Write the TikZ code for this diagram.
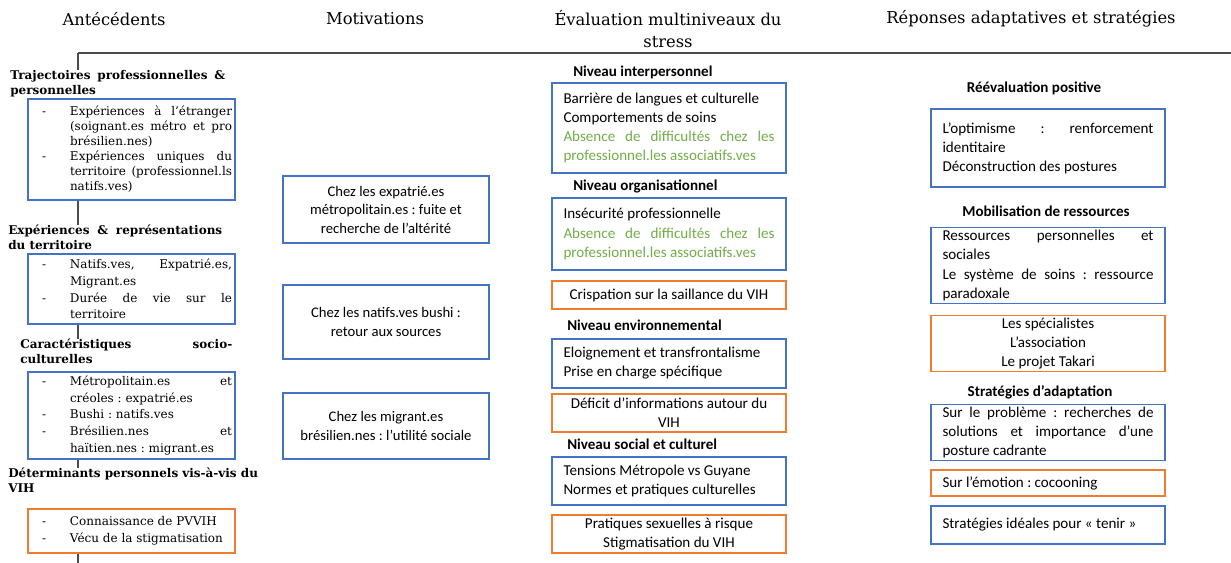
\documentclass[tikz,border=0pt]{standalone}
\usepackage{fontspec}
\setmainfont{DejaVu Serif}
\newfontfamily\calib{Carlito}
\frenchspacing
\definecolor{boxblue}{RGB}{68,114,196}
\definecolor{boxorange}{RGB}{237,125,49}
\definecolor{txtgreen}{RGB}{112,173,71}
\definecolor{rulegray}{RGB}{75,75,75}
% lines of the left column lists
\newcommand{\itemjust}[1]{\hspace*{10.5pt}\makebox[21pt][l]{-}\makebox[121.5pt][s]{#1}}
\newcommand{\itemlast}[1]{\hspace*{10.5pt}\makebox[21pt][l]{-}#1}
\newcommand{\contjust}[1]{\hspace*{31.5pt}\makebox[121.5pt][s]{#1}}
\newcommand{\contlast}[1]{\hspace*{31.5pt}#1}
% justified line in the sans boxes
\newcommand{\sjust}[1]{\makebox[158.25pt][s]{#1}}
\begin{document}
\begin{tikzpicture}[x=0.75pt,y=0.75pt,yscale=-1,xscale=1,
  rule/.style={draw=rulegray,line width=1.1pt},
  colhead/.style={inner sep=0pt,align=flush center,font=\fontsize{12.25}{16.5}\selectfont},
  lhead/.style={anchor=north west,inner sep=0pt,text width=161.25pt,align=flush left,font=\bfseries\fontsize{9}{11.25}\selectfont},
  lbox/.style={draw=boxblue,line width=0.8pt,inner sep=0pt,text width=155.25pt,minimum width=155.25pt,align=flush left,font=\fontsize{9}{12.5}\selectfont},
  lboxo/.style={lbox,draw=boxorange},
  mbox/.style={draw=boxblue,line width=0.8pt,minimum width=154.5pt,text width=140pt,align=flush center,font=\calib\fontsize{11}{13.9}\selectfont},
  sbox/.style={draw=boxblue,line width=0.8pt,minimum width=175.5pt,text width=158.25pt,inner ysep=2pt,align=flush left,font=\calib\fontsize{11.3}{14.3}\selectfont},
  sboxo/.style={sbox,draw=boxorange},
  stitle/.style={inner sep=0pt,font=\calib\bfseries\fontsize{11.3}{14}\selectfont}]
\useasboundingbox (0,0) rectangle (1231,563);

% Text Node
\draw (114,19) node (hant) [colhead] {Antécédents};
% Text Node
\draw (375,19) node (hmot) [colhead] {Motivations};
% Text Node
\draw (668,29) node (heval) [colhead] {Évaluation multiniveaux du\\stress};
% Text Node
\draw (1031,19) node (hrep) [colhead] {Réponses adaptatives et stratégies};

%Straight Lines
\coordinate (spine) at (78,53);
\coordinate (ruleend) at (1231,53);
\coordinate (spineend) at (78,563);
\draw [rule] (spine) -- (ruleend);

% Antécédents
% Text Node
\draw (10,70) node (h1) [lhead] {\makebox[161.25pt][s]{Trajectoires professionnelles \&}\\personnelles};
%Shape: Rectangle
\draw (131.5,149.5) node (b1) [lbox,minimum height=75.75pt,font=\fontsize{9}{11.25}\selectfont] {\itemjust{Expériences à l’étranger}\\
\contjust{(soignant.es métro et pro}\\
\contlast{brésilien.nes)}\\
\itemjust{Expériences uniques du}\\
\contjust{territoire (professionnel.ls}\\
\contlast{natifs.ves)}};
% Text Node
\draw (8,225) node (h2) [lhead] {\makebox[160.5pt][s]{Expériences \& représentations}\\du territoire};
%Shape: Rectangle
\draw (131.5,289) node (b2) [lbox,minimum height=52.5pt] {\itemjust{Natifs.ves, Expatrié.es,}\\
\contlast{Migrant.es}\\
\itemjust{Durée de vie sur le}\\
\contlast{territoire}};
% Text Node
\draw (20,339) node (h3) [lhead] {\makebox[159pt][s]{Caractéristiques socio-}\\culturelles};
%Shape: Rectangle
\draw (131.5,415.5) node (b3) [lbox,minimum height=65.25pt] {\itemjust{Métropolitain.es et}\\
\contlast{créoles : expatrié.es}\\
\itemlast{Bushi : natifs.ves}\\
\itemjust{Brésilien.nes et}\\
\contlast{haïtien.nes : migrant.es}};
% Text Node
\draw (8,468) node (h4) [lhead,text width=195pt] {Déterminants personnels vis-à-vis du\\VIH};
%Shape: Rectangle
\draw (131.5,531) node (b4) [lboxo,minimum height=33pt] {\itemlast{Connaissance de PVVIH}\\
\itemlast{Vécu de la stigmatisation}};

%Straight Lines
\draw [rule] (spine) -- (h1.north -| spine);
\draw [rule] (b1.south -| spine) -- (h2.north -| spine);
\draw [rule] (b2.south -| spine) -- (h3.north -| spine);
\draw [rule] (b3.south -| spine) -- (h4.north -| spine);
\draw [rule] (b4.south -| spine) -- (spineend);

% Motivations
%Shape: Rectangle
\draw (386,209.5) node (m1) [mbox,minimum height=50.25pt] {Chez les expatrié.es\\métropolitain.es : fuite et\\recherche de l’altérité};
%Shape: Rectangle
\draw (386,322) node (m2) [mbox,minimum height=55.5pt] {Chez les natifs.ves bushi :\\retour aux sources};
%Shape: Rectangle
\draw (386,426) node (m3) [mbox,minimum height=49.5pt] {Chez les migrant.es\\brésilien.nes : l’utilité sociale};

% Evaluation multiniveaux
% Text Node
\draw (573,72) node (t1) [stitle,anchor=west] {Niveau interpersonnel};
%Shape: Rectangle
\draw (669,128) node (e1) [sbox,minimum height=67.5pt] {Barrière de langues et culturelle\\
Comportements de soins\\
\textcolor{txtgreen}{\sjust{Absence de difficultés chez les}}\\
\textcolor{txtgreen}{professionnel.les associatifs.ves}};
% Text Node
\draw (573,186) node (t2) [stitle,anchor=west] {Niveau organisationnel};
%Shape: Rectangle
\draw (669,234) node (e2) [sbox,minimum height=54pt] {Insécurité professionnelle\\
\textcolor{txtgreen}{\sjust{Absence de difficultés chez les}}\\
\textcolor{txtgreen}{professionnel.les associatifs.ves}};
%Shape: Rectangle
\draw (669,295) node (e3) [sboxo,align=flush center,minimum height=21pt] {Crispation sur la saillance du VIH};
% Text Node
\draw (567,325) node (t3) [stitle,anchor=west] {Niveau environnemental};
%Shape: Rectangle
\draw (669,363.5) node (e4) [sbox,minimum height=36.75pt] {Eloignement et transfrontalisme\\Prise en charge spécifique};
%Shape: Rectangle
\draw (669,413) node (e5) [sboxo,align=flush center,minimum height=28.5pt] {Déficit d’informations autour du\\VIH};
% Text Node
\draw (567,444) node (t4) [stitle,anchor=west] {Niveau social et culturel};
%Shape: Rectangle
\draw (669,481) node (e6) [sbox,minimum height=36pt] {Tensions Métropole vs Guyane\\Normes et pratiques culturelles};
%Shape: Rectangle
\draw (669,534) node (e7) [sboxo,align=flush center,minimum height=28.5pt] {Pratiques sexuelles à risque\\Stigmatisation du VIH};

% Reponses adaptatives
% Text Node
\draw (1034,88) node (s1) [stitle] {Réévaluation positive};
%Shape: Rectangle
\draw (1048,148) node (r1) [sbox,minimum height=58.5pt] {\sjust{L’optimisme : renforcement}\\identitaire\\Déconstruction des postures};
% Text Node
\draw (1046,211) node (s2) [stitle] {Mobilisation de ressources};
%Shape: Rectangle
\draw (1048,265.5) node (r2) [sbox,minimum height=56.25pt] {\sjust{Ressources personnelles et}\\sociales\\\sjust{Le système de soins : ressource}\\paradoxale};
%Shape: Rectangle
\draw (1048,343.5) node (r3) [sboxo,align=flush center,minimum height=41.25pt] {Les spécialistes\\L’association\\Le projet Takari};
% Text Node
\draw (1040,392) node (s3) [stitle] {Stratégies d’adaptation};
%Shape: Rectangle
\draw (1048,432.5) node (r4) [sbox,minimum height=41.25pt] {\sjust{Sur le problème : recherches de}\\\sjust{solutions et importance d’une}\\posture cadrante};
%Shape: Rectangle
\draw (1048,483) node (r5) [sboxo,minimum height=19.5pt] {Sur l’émotion : cocooning};
%Shape: Rectangle
\draw (1048,525) node (r6) [sbox,minimum height=28.5pt] {Stratégies idéales pour «~tenir~»};

\end{tikzpicture}
\end{document}
